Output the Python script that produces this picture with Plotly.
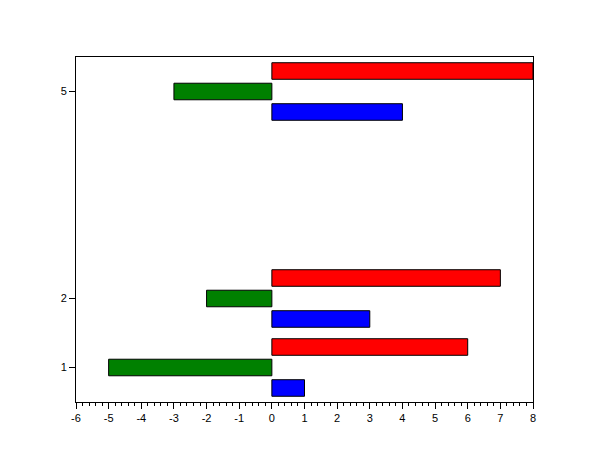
import plotly.graph_objects as go

categories = [1, 2, 5]
blue_vals = [1, 3, 4]
green_vals = [-5, -2, -3]
red_vals = [6, 7, 8]
x_ticks = list(range(-6, 9))
y_ticks = [1, 2, 5]

bar_w = 0.24
series = [
    ("blue", blue_vals, "#0000FF", -0.297),
    ("green", green_vals, "#008000", 0.0),
    ("red", red_vals, "#FF0000", 0.297),
]

fig = go.Figure()
for name, vals, col, shift in series:
    fig.add_trace(go.Bar(
        y=categories, x=vals, orientation="h", name=name,
        width=bar_w, offset=shift - bar_w / 2,
        marker=dict(color=col, line=dict(color="black", width=1)),
        showlegend=False,
    ))

axis_font = dict(family="Liberation Sans, Arial, sans-serif", size=11, color="black")
fig.update_layout(
    width=610, height=460,
    margin=dict(l=68, r=85, t=49, b=66),
    paper_bgcolor="white", plot_bgcolor="white",
    barmode="overlay",
    font=axis_font,
    xaxis=dict(
        range=[-6, 8], tickvals=x_ticks, ticktext=[str(v) for v in x_ticks],
        showgrid=False, zeroline=False,
        showline=True, linecolor="black", linewidth=1, mirror=True,
        ticks="outside", ticklen=6, tickcolor="black", tickwidth=1,
        minor=dict(ticks="outside", dtick=0.2, ticklen=3, tickcolor="black", tickwidth=1, showgrid=False),
        tickfont=axis_font,
    ),
    yaxis=dict(
        range=[0.5, 5.5], tickvals=y_ticks, ticktext=[str(v) for v in y_ticks],
        showgrid=False, zeroline=False,
        showline=True, linecolor="black", linewidth=1, mirror=True,
        ticks="outside", ticklen=6, tickcolor="black", tickwidth=1,
        tickfont=axis_font,
    ),
)

fig.write_html("out.html")
